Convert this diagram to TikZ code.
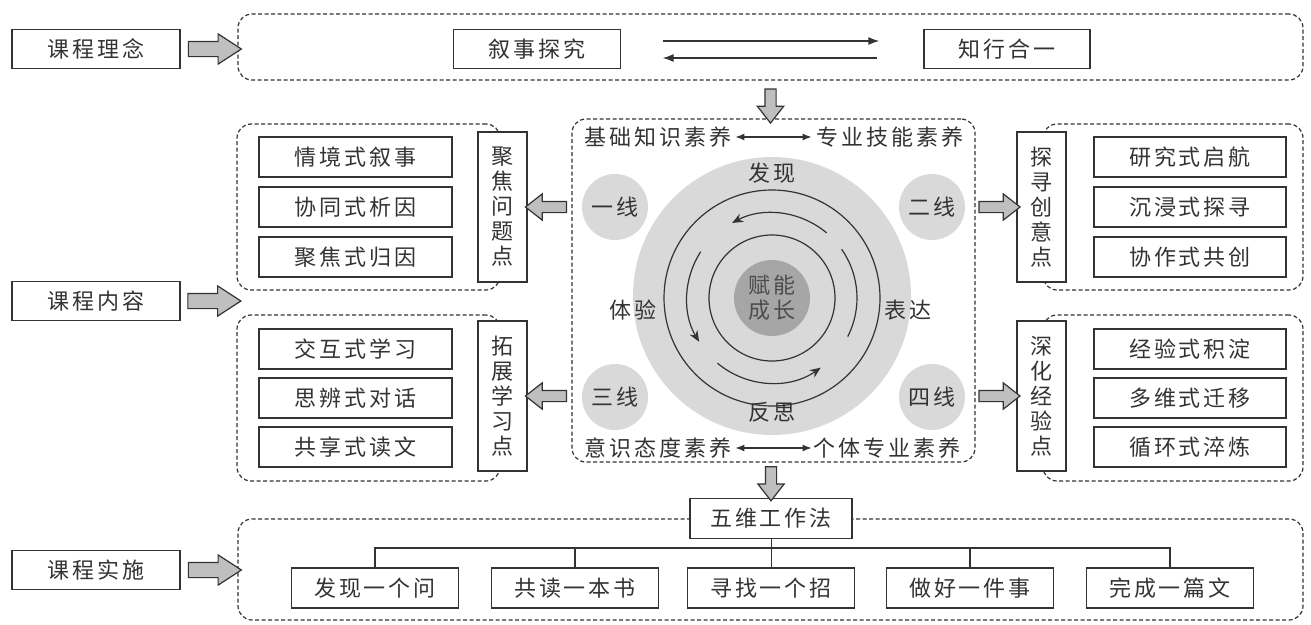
\documentclass[tikz,border=0pt]{standalone}
\usepackage{fontspec}
\setmainfont{Noto Sans CJK SC}
\newfontfamily\cjk[LetterSpace=13]{Noto Sans CJK SC}
\usetikzlibrary{shapes.arrows,arrows.meta,calc}
\definecolor{ln}{HTML}{333333}
\definecolor{tx}{HTML}{333333}
\definecolor{lg}{HTML}{D9D9D9}
\definecolor{dg}{HTML}{A6A6A6}
\definecolor{ga}{HTML}{BFBFBF}
\newcommand{\shaftbox}[1]{\phantom{\rule{#1}{#1}}}
\begin{document}
\begin{tikzpicture}[x=1pt,y=-1pt,
  font=\cjk\fontsize{22}{25}\selectfont,
  every node/.style={text=tx},
  lab/.style={draw=ln, line width=1.3pt, fill=white, minimum width=168pt, minimum height=39pt, inner sep=0pt},
  item/.style={lab, minimum width=193pt, minimum height=40pt},
  bitem/.style={lab, minimum width=167pt, minimum height=40pt},
  vbox/.style={draw=ln, line width=1.3pt, fill=white, minimum width=49pt, minimum height=150pt, inner sep=0pt, align=center},
  dbox/.style={draw=ln, line width=1.2pt, dash pattern=on 4pt off 2.5pt, rounded corners=14pt, inner sep=0pt},
  garrow/.style={single arrow, draw=ln, fill=ga, line width=1.2pt, single arrow head indent=0pt, inner sep=0pt},
  bigarrow/.style={garrow, single arrow head extend=7.5pt, single arrow tip angle=66, minimum height=53pt},
  smallarrow/.style={garrow, single arrow head extend=7.5pt, single arrow tip angle=76},
  dar/.style={line width=1.4pt, draw=ln, -{Latex[length=11pt,width=8pt]}},
  dar2/.style={line width=1.4pt, draw=ln, {Latex[length=9pt,width=7pt]}-{Latex[length=9pt,width=7pt]}},
  ring/.style={draw=ln, line width=1.2pt},
  rarr/.style={draw=ln, line width=1.2pt, -{Stealth[length=11pt,width=9pt]}},
  txt/.style={inner sep=1pt},
  disc/.style={circle, fill=lg, inner sep=0pt, minimum size=66pt}
]
\useasboundingbox (0,0) rectangle (1311,624);

% left labels
\node[lab] (l1) at (96,49) {课程理念};
\node[lab] (l2) at (96,301) {课程内容};
\node[lab] (l3) at (96,570) {课程实施};

% top row
\node[dbox, minimum width=1065pt, minimum height=66pt] (top) at (770.5,47) {};
\node[lab, minimum width=167pt] (xs) at (537,49) {叙事探究};
\node[lab, minimum width=166pt] (zx) at (1007,49) {知行合一};
\draw[dar, shorten <=41.5pt, shorten >=44pt] ([yshift=8pt]xs.east) -- ([yshift=8pt]zx.west);
\draw[dar, shorten <=46pt, shorten >=41.5pt] ([yshift=-9pt]zx.west) -- ([yshift=-9pt]xs.east);

% centre
\node[dbox, minimum width=403pt, minimum height=343pt] (mid) at (773.5,290.5) {};
\node[circle, fill=lg, minimum size=278pt, inner sep=0pt] (big) at (772,296) {};
\node[disc] (c1) at (615,207) {一线};
\node[disc] (c2) at (932,207) {二线};
\node[disc] (c3) at (615,397) {三线};
\node[disc] (c4) at (932,397) {四线};
\node[circle, fill=dg, minimum size=76pt, inner sep=0pt, align=center, text=black!70] (core) at (772,298) {赋能\\成长};
\draw[ring] (core.center) circle[radius=108];
\draw[ring] (core.center) circle[radius=63];
\draw[rarr] ($(core.center)+(-50:85)$) arc[start angle=-50, end angle=-118, radius=85];
\draw[rarr] ($(core.center)+(-147:85)$) arc[start angle=-147, end angle=-211, radius=85];
\draw[rarr] ($(core.center)+(-230:85)$) arc[start angle=-230, end angle=-305, radius=85];
\draw[ring] ($(core.center)+(-333:85)$) arc[start angle=-333, end angle=-395, radius=85];
\node[txt] (fx) at (772,173) {发现};
\node[txt] (ty) at (633,310) {体验};
\node[txt] (bd) at (908,310) {表达};
\node[txt] (fs) at (772,412) {反思};
\node[txt] (jc) at (658,137) {基础知识素养};
\node[txt] (zy) at (890,137) {专业技能素养};
\node[txt] (ys) at (658,448) {意识态度素养};
\node[txt] (gt) at (887,448) {个体专业素养};
\draw[dar2, shorten <=3pt, shorten >=4pt] (jc.east) -- (zy.west);
\draw[dar2, shorten <=3pt, shorten >=1pt] (ys.east) -- (gt.west);

% left groups
\node[dbox, minimum width=263pt, minimum height=166pt] (ul) at (368.5,207) {};
\node[dbox, minimum width=263pt, minimum height=166pt] (ll) at (368.5,398) {};
\node[item] (a1) at (355.5,157) {情境式叙事};
\node[item] (a2) at (355.5,207) {协同式析因};
\node[item] (a3) at (355.5,257) {聚焦式归因};
\node[item] (b1) at (355.5,349) {交互式学习};
\node[item] (b2) at (355.5,398) {思辨式对话};
\node[item] (b3) at (355.5,447) {共享式读文};
\node[vbox] (v1) at (502.5,207) {聚\\焦\\问\\题\\点};
\node[vbox] (v2) at (502.5,396) {拓\\展\\学\\习\\点};

% right groups
\node[dbox, minimum width=260pt, minimum height=166pt] (ur) at (1173,207) {};
\node[dbox, minimum width=260pt, minimum height=166pt] (lr) at (1173,398) {};
\node[item, minimum width=192pt] (r1) at (1190,157) {研究式启航};
\node[item, minimum width=192pt] (r2) at (1190,207) {沉浸式探寻};
\node[item, minimum width=192pt] (r3) at (1190,257) {协作式共创};
\node[item, minimum width=192pt] (s1) at (1190,349) {经验式积淀};
\node[item, minimum width=192pt] (s2) at (1190,398) {多维式迁移};
\node[item, minimum width=192pt] (s3) at (1190,447) {循环式淬炼};
\node[vbox] (v3) at (1041.5,207) {探\\寻\\创\\意\\点};
\node[vbox] (v4) at (1041.5,396) {深\\化\\经\\验\\点};

% bottom
\node[dbox, minimum width=1065pt, minimum height=101pt] (bot) at (770.5,569.5) {};
\node[lab, minimum width=162pt, minimum height=40pt] (ww) at (771,518.5) {五维工作法};
\node[bitem] (w1) at (375,588) {发现一个问};
\node[bitem] (w2) at (575,588) {共读一本书};
\node[bitem] (w3) at (771,588) {寻找一个招};
\node[bitem] (w4) at (970,588) {做好一件事};
\node[bitem] (w5) at (1170,588) {完成一篇文};
\coordinate (hl) at (0,548);
\draw[ln, line width=1.5pt] (w1.north) -- (w1.north |- hl) -- (w5.north |- hl) -- (w5.north);
\draw[ln, line width=1.5pt] (w2.north) -- (w2.north |- hl);
\draw[ln, line width=1.5pt] (w4.north) -- (w4.north |- hl);
\draw[ln, line width=1pt] (ww.south) -- (w3.north);

% gray block arrows
\node[bigarrow] at ($(l1.east)!0.5!(l1.east -| top.west)$) {\shaftbox{14pt}};
\node[bigarrow] at ($(l2.east)!0.5!(l2.east -| ul.west)$) {\shaftbox{14pt}};
\node[bigarrow] at ($(l3.east)!0.5!(l3.east -| bot.west)$) {\shaftbox{14pt}};
\node[smallarrow, minimum height=41pt, shape border rotate=180] at ($(v1.east)!0.5!(v1.east -| mid.west)$) {\shaftbox{10pt}};
\node[smallarrow, minimum height=41pt, shape border rotate=180] at ($(v2.east)!0.5!(v2.east -| mid.west)$) {\shaftbox{10pt}};
\node[smallarrow, minimum height=41pt] at ($(v3.west)!0.5!(v3.west -| mid.east)$) {\shaftbox{10pt}};
\node[smallarrow, minimum height=41pt] at ($(v4.west)!0.5!(v4.west -| mid.east)$) {\shaftbox{10pt}};
\node[smallarrow, minimum height=34pt, shape border rotate=270] at ($(top.south)!0.5!(top.south |- mid.north)+(0,3)$) {\shaftbox{10pt}};
\node[smallarrow, minimum height=34pt, shape border rotate=270] at ($(ww.north)!0.5!(ww.north |- mid.south)$) {\shaftbox{10pt}};
\end{tikzpicture}
\end{document}
